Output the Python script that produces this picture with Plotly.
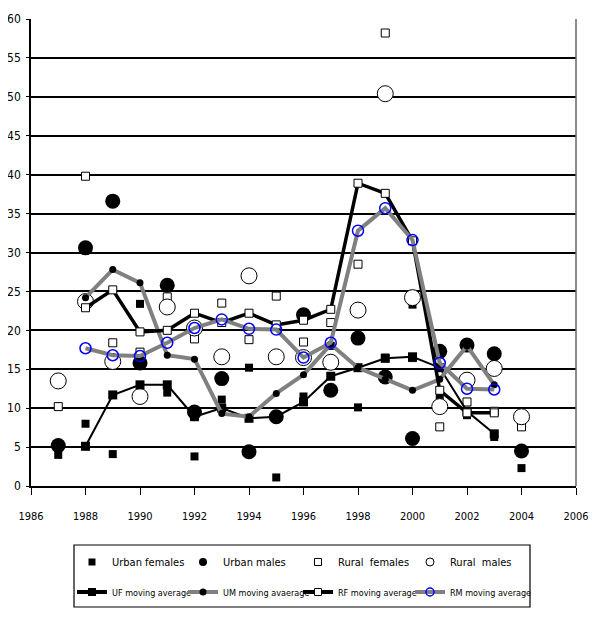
import plotly.graph_objects as go

# valores
years = list(range(1987, 2005))
ma_years = list(range(1988, 2004))

urban_females = [4.0, 8.0, 4.1, 23.4, 12.0, 3.8, 11.1, 15.2, 1.1, 11.5, 18.0, 10.1, 16.5, 23.3, 11.3, 9.1, 6.3, 2.3]
urban_males = [5.2, 30.6, 36.6, 15.8, 25.8, 9.5, 13.8, 4.4, 8.9, 22.0, 12.3, 19.0, 14.0, 6.1, 17.3, 18.1, 17.0, 4.5]
rural_females = [10.2, 39.8, 18.4, 17.2, 24.3, 18.9, 23.5, 18.8, 24.4, 18.5, 21.0, 28.5, 58.2, 16.5, 7.6, 10.8, 9.6, 7.6]
rural_males = [13.5, 23.7, 16.0, 11.5, 23.0, 20.3, 16.6, 27.0, 16.6, 16.5, 15.9, 22.6, 50.4, 24.2, 10.2, 13.6, 15.1, 8.9]

uf_ma = [5.1, 11.7, 13.0, 13.0, 8.9, 10.0, 8.7, 8.9, 10.8, 14.1, 15.2, 16.4, 16.6, 15.2, 9.6, 6.7]
um_ma = [24.2, 27.8, 26.1, 16.8, 16.3, 9.3, 8.9, 11.9, 14.3, 18.2, 15.2, 13.7, 12.3, 13.7, 18.0, 13.0]
rf_ma = [22.9, 25.2, 19.8, 20.0, 22.2, 21.0, 22.2, 20.7, 21.3, 22.7, 38.9, 37.6, 31.5, 12.3, 9.4, 9.4]
rm_ma = [17.7, 16.8, 16.7, 18.4, 20.3, 21.4, 20.2, 20.1, 16.5, 18.4, 32.8, 35.7, 31.6, 15.8, 12.5, 12.4]

FONT = "DejaVu Sans Condensed, Liberation Sans Narrow, Arial Narrow, Liberation Sans"
GRAY = "#808080"

# (nome, valores, marcador no gráfico, marcador na legenda)
point_series = [
    ("Urban females", urban_females, dict(symbol="square", size=8, color="black"),
     dict(symbol="square", size=7, color="black")),
    ("Urban males", urban_males, dict(symbol="circle", size=15, color="black"),
     dict(symbol="circle", size=8, color="black")),
    ("Rural  females", rural_females,
     dict(symbol="square", size=8, color="white", line=dict(color="black", width=1)),
     dict(symbol="square", size=7, color="white", line=dict(color="black", width=1))),
    ("Rural  males", rural_males,
     dict(symbol="circle", size=16, color="white", line=dict(color="black", width=1)),
     dict(symbol="circle", size=8, color="white", line=dict(color="black", width=1))),
]
# (nome, valores, linha, marcador no gráfico, marcador na legenda)
ma_series = [
    ("UF moving average", uf_ma, dict(color="black", width=2),
     dict(symbol="square", size=9, color="black"),
     dict(symbol="square", size=8, color="black")),
    ("UM moving avaerage", um_ma, dict(color=GRAY, width=4),
     dict(symbol="circle", size=7, color="black"),
     dict(symbol="circle", size=7, color="black")),
    ("RF moving average", rf_ma, dict(color="black", width=3.5),
     dict(symbol="square", size=8, color="white", line=dict(color="black", width=1)),
     dict(symbol="square", size=7, color="white", line=dict(color="black", width=1))),
    ("RM moving average", rm_ma, dict(color=GRAY, width=4),
     dict(symbol="circle", size=11, color="rgba(0,0,0,0)", line=dict(color="blue", width=1.5)),
     dict(symbol="circle", size=8, color="rgba(0,0,0,0)", line=dict(color="blue", width=1.5))),
]

fig = go.Figure()

for name, vals, mk, _ in point_series:
    fig.add_trace(go.Scatter(x=years, y=vals, mode="markers", name=name,
                             marker=mk, showlegend=False))
for name, vals, ln, mk, _ in ma_series:
    fig.add_trace(go.Scatter(x=ma_years, y=vals, mode="lines+markers", name=name,
                             line=ln, marker=mk, showlegend=False))

# uma legenda por entrada para posicionar as colunas como no original
col_x = [0.0752, 0.2789, 0.4899, 0.6954]
legends = {}
for i, (name, _, _, lmk) in enumerate(point_series):
    key = "legend" if i == 0 else f"legend{i + 1}"
    fig.add_trace(go.Scatter(x=[None], y=[None], mode="markers", name=name,
                             marker=lmk, legend=key))
    legends[key] = dict(x=col_x[i], y=-0.1627, font=dict(family=FONT, size=11, color="black"))
for i, (name, _, ln, _, lmk) in enumerate(ma_series):
    key = f"legend{i + 5}"
    fig.add_trace(go.Scatter(x=[None], y=[None], mode="lines+markers", name=name,
                             line=dict(color=ln["color"], width=4), marker=lmk,
                             legend=key))
    legends[key] = dict(x=col_x[i], y=-0.227, font=dict(family=FONT, size=9, color="black"))

for key, spec in legends.items():
    spec.update(orientation="h", xanchor="left", yanchor="middle",
                bgcolor="rgba(0,0,0,0)", borderwidth=0, itemwidth=30)

fig.update_layout(
    width=592, height=612,
    margin=dict(l=23, r=24, t=11, b=134),
    paper_bgcolor="white", plot_bgcolor="white",
    font=dict(family=FONT, size=12, color="black"),
    showlegend=True,
    **legends,
)

fig.update_xaxes(range=[1986, 2006], dtick=2, tick0=1986, showgrid=False, zeroline=False,
                 showline=True, linecolor="black", linewidth=1.5, automargin=False,
                 ticks="outside", ticklen=7, tickcolor="black", ticklabelstandoff=12,
                 tickfont=dict(family=FONT, size=11))
fig.update_yaxes(range=[0, 60], dtick=5, showgrid=True, gridcolor="black", gridwidth=1.5,
                 zeroline=False, showline=True, linecolor="black", linewidth=1.5,
                 automargin=False, ticks="outside", ticklen=3, tickcolor="black",
                 ticklabelstandoff=3, tickfont=dict(family=FONT, size=12))

# moldura direita cinza e caixa da legenda
fig.add_shape(type="line", xref="paper", yref="paper", x0=1, x1=1, y0=0, y1=1,
              line=dict(color="#666666", width=1.5))
fig.add_shape(type="rect", xref="paper", yref="paper",
              x0=0.0789, x1=0.9156, y0=-0.2591, y1=-0.1263,
              line=dict(color="black", width=1.2), fillcolor="rgba(0,0,0,0)")

fig.write_html("out.html")
